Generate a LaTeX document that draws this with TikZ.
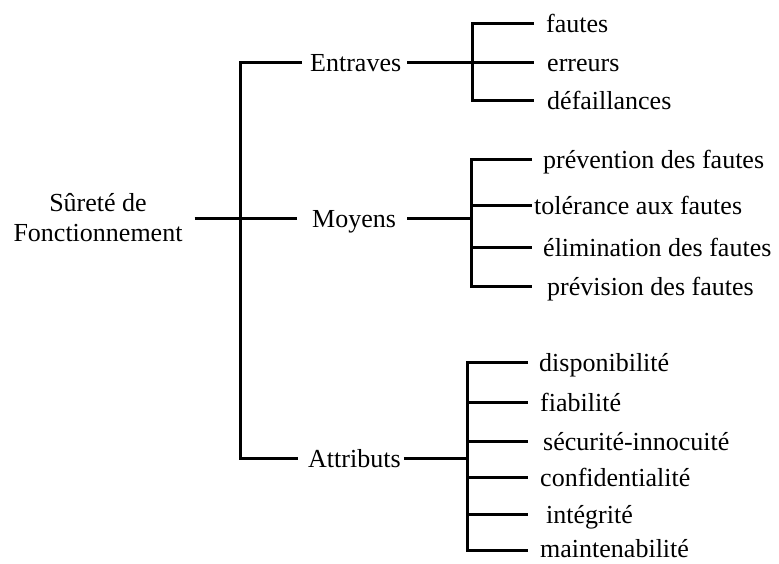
\documentclass[tikz,border=0pt]{standalone}
\usepackage{fontspec}
\setmainfont{Liberation Serif}
\begin{document}
\begin{tikzpicture}[x=1pt,y=-1pt,
  every node/.style={font=\fontsize{26}{30}\selectfont},
  lbl/.style={anchor=west, inner xsep=0pt, inner ysep=0pt, text height=24pt, text depth=6pt},
  leaf/.style={anchor=west, inner xsep=12pt, inner ysep=0pt, text height=24pt, text depth=6pt},
  wire/.style={line width=3pt, line join=miter}]
\useasboundingbox (0,0) rectangle (779,563);

% root
\node[align=center, inner sep=0pt] (root) at (98,218) {Sûreté de\\Fonctionnement};

% trunk
\coordinate (tE) at (240,62);
\coordinate (tM) at (240,218);
\coordinate (tA) at (240,458);

% first level
\node[lbl] (ent) at (310,62) {Entraves};
\node[lbl] (moy) at (312,218) {Moyens};
\node[lbl] (att) at (308,458) {Attributs};

\draw[wire] ([xshift=-8pt]ent.west) -- (tE) -- (tA) -- ([xshift=-10pt]att.west);
\draw[wire] ([xshift=-15pt]moy.west) -- (tM);
\draw[wire] ([xshift=12pt]root.east) -- (tM);

% Entraves
\coordinate (jE) at (472,62);
\node[leaf] (f1) at (534,23) {fautes};
\node[leaf, inner xsep=13pt] (f2) at (534,62) {erreurs};
\node[leaf, inner xsep=13pt] (f3) at (534,100) {défaillances};
\draw[wire] ([xshift=6pt]ent.east) -- (jE);
\draw[wire] (f1.west) -- (f1.west -| jE) -- (f3.west -| jE) -- (f3.west);
\draw[wire] (jE) -- (f2.west);

% Moyens
\coordinate (jM) at (471,218);
\node[leaf, inner xsep=11pt] (m1) at (532,159) {prévention des fautes};
\node[leaf, inner xsep=2pt] (m2) at (532,205) {tolérance aux fautes};
\node[leaf, inner xsep=11pt] (m3) at (532,247) {élimination des fautes};
\node[leaf, inner xsep=15pt] (m4) at (532,286) {prévision des fautes};
\draw[wire] ([xshift=11pt]moy.east) -- (jM);
\draw[wire] (m1.west) -- (m1.west -| jM) -- (m4.west -| jM) -- (m4.west);
\draw[wire] (m2.west -| jM) -- (m2.west);
\draw[wire] (m3.west -| jM) -- (m3.west);

% Attributs
\coordinate (jA) at (467,458);
\node[leaf, inner xsep=11pt] (a1) at (528,362) {disponibilité};
\node[leaf] (a2) at (528,402) {fiabilité};
\node[leaf, inner xsep=15pt] (a3) at (528,441) {sécurité-innocuité};
\node[leaf] (a4) at (528,477) {confidentialité};
\node[leaf, inner xsep=18pt] (a5) at (528,514) {intégrité};
\node[leaf, text height=14pt, text depth=0pt] (a6) at (528,550) {maintenabilité};
\draw[wire] ([xshift=3pt]att.east) -- (jA);
\draw[wire] (a1.west) -- (a1.west -| jA) -- (a6.west -| jA) -- (a6.west);
\draw[wire] (a2.west -| jA) -- (a2.west);
\draw[wire] (a3.west -| jA) -- (a3.west);
\draw[wire] (a4.west -| jA) -- (a4.west);
\draw[wire] (a5.west -| jA) -- (a5.west);
\end{tikzpicture}
\end{document}
